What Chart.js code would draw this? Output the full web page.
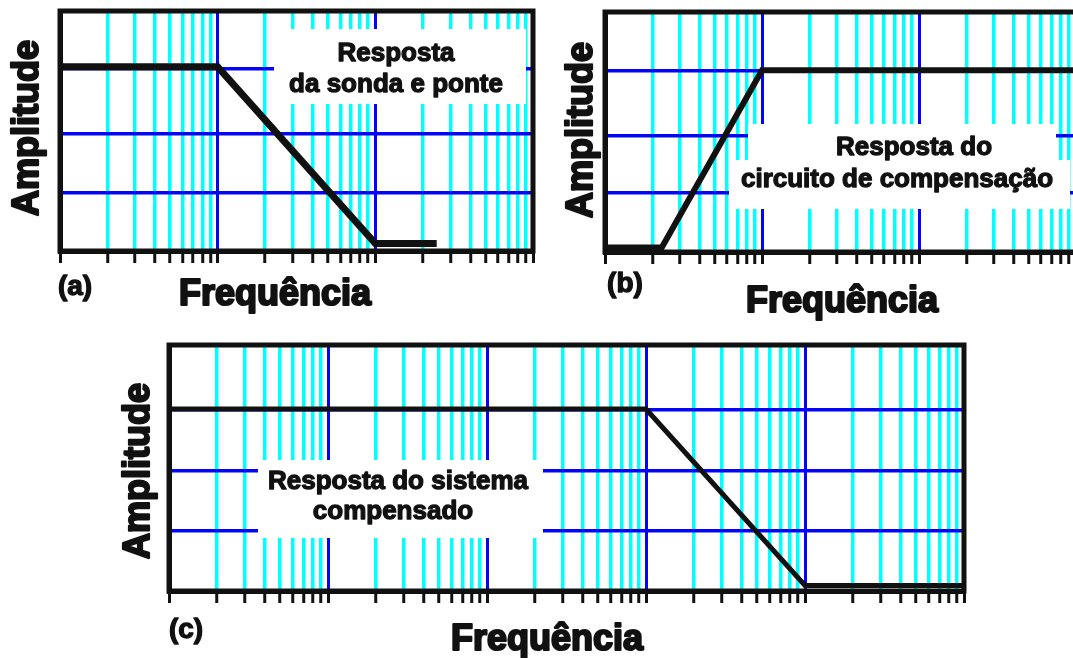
<!DOCTYPE html>
<html>
<head>
<meta charset="utf-8">
<title>Resposta em frequência</title>
<script src="https://cdn.jsdelivr.net/npm/chart.js@4.4.1/dist/chart.umd.min.js"></script>
<style>
html, body { margin: 0; padding: 0; background: #fff; overflow: hidden; }
#wrap { position: relative; width: 1073px; height: 658px; overflow: hidden; }
#wrap canvas { position: absolute; left: 0; top: 0; }
</style>
</head>
<body>
<div id="wrap">
  <canvas id="chartA" width="1100" height="658"></canvas>
  <canvas id="chartB" width="1100" height="658"></canvas>
  <canvas id="chartC" width="1100" height="658"></canvas>
</div>
<script>
// response curves: frequency (log axis) and amplitude (grid units)
var freqA = [1, 10, 100, 245];
var ampA = [3.07, 3.07, 0.125, 0.125];
var freqB = [1, 2.3, 10, 1000];
var ampB = [0.075, 0.075, 3.03, 3.03];
var freqC = [1, 1000, 10000, 100000];
var ampC = [2.96, 2.96, 0.09, 0.09];

// log paper: decades and the steps inside a decade
var decadesAB = [1, 10, 100, 1000];
var decadesC = [1, 10, 100, 1000, 10000, 100000];
var steps = [1, 2, 3, 4, 5, 6, 7, 8, 9];

// amplitude grid lines
var gridA = [0.97, 1.96, 3.03];
var gridB = [0.98, 1.93, 3.02];
var gridC = [0.98, 1.95, 2.94];

var ink = '#111111';
var cyan = '#00ffff';
var blue = '#0505f5';
var tickLen = 12;
var W = 1100, H = 658;

function isMajor(v) {
    var l = Math.log10(v);
    return Math.abs(l - Math.round(l)) < 1e-9;
}

function logTicks(decades) {
    var out = [];
    decades.forEach(function (d, i) {
        if (i === decades.length - 1) { out.push(d); return; }
        steps.forEach(function (s) { out.push(s * d); });
    });
    return out;
}

// heavy text: fill plus an outline of the same colour
function heavyText(ctx, text, x, y, weight) {
    ctx.lineWidth = weight;
    ctx.fillText(text, x, y);
    ctx.strokeText(text, x, y);
}

// white label boxes, notes, frame and titles
function makePaper(panel) {
    return {
        id: 'paper',
        beforeDatasetsDraw: function (chart) {
            var ctx = chart.ctx;
            ctx.save();
            ctx.fillStyle = '#fff';
            panel.boxes.forEach(function (b) {
                ctx.fillRect(b[0], b[1], b[2] - b[0], b[3] - b[1]);
            });
            ctx.fillStyle = ink;
            ctx.strokeStyle = ink;
            ctx.lineJoin = 'round';
            ctx.font = 'bold 26px "Liberation Sans", Arial, sans-serif';
            ctx.textAlign = 'center';
            ctx.textBaseline = 'middle';
            panel.notes.forEach(function (n) {
                heavyText(ctx, n[0], n[1], n[2], 1.3);
            });
            ctx.restore();
        },
        afterDatasetsDraw: function (chart) {
            var a = chart.chartArea, ctx = chart.ctx;
            ctx.save();
            ctx.strokeStyle = ink;
            ctx.lineWidth = 5;
            ctx.strokeRect(a.left, a.top, a.right - a.left, a.bottom - a.top);

            ctx.fillStyle = ink;
            ctx.lineJoin = 'round';
            ctx.textAlign = 'center';
            ctx.font = 'bold 36px "Liberation Sans", Arial, sans-serif';

            ctx.textBaseline = 'alphabetic';
            heavyText(ctx, 'Frequência', panel.xTitle[0], panel.xTitle[1], 2.2);

            ctx.save();
            ctx.translate(panel.yTitle[0], panel.yTitle[1]);
            ctx.rotate(-Math.PI / 2);
            ctx.textBaseline = 'middle';
            heavyText(ctx, 'Amplitude', 0, 0, 2.2);
            ctx.restore();

            ctx.font = 'bold 28px "Liberation Sans", Arial, sans-serif';
            ctx.textBaseline = 'middle';
            heavyText(ctx, panel.tag[0], panel.tag[1], panel.tag[2], 1.3);
            ctx.restore();
        }
    };
}

function paperChart(id, freq, amp, decades, yGrid, lineWidth, panel) {
    var xTicks = logTicks(decades);
    var area = panel.area;
    return new Chart(document.getElementById(id), {
        type: 'line',
        data: {
            datasets: [{
                data: freq.map(function (f, i) { return {x: f, y: amp[i]}; }),
                borderColor: ink,
                borderWidth: lineWidth,
                pointRadius: 0,
                tension: 0,
                borderJoinStyle: 'miter'
            }]
        },
        options: {
            responsive: false,
            animation: false,
            devicePixelRatio: 1,
            layout: {
                padding: {left: area[0], top: area[1], right: W - area[2], bottom: H - area[3] - tickLen}
            },
            plugins: {
                legend: {display: false},
                tooltip: {enabled: false}
            },
            scales: {
                x: {
                    type: 'logarithmic',
                    min: decades[0],
                    max: decades[decades.length - 1],
                    afterBuildTicks: function (scale) {
                        scale.ticks = xTicks.map(function (v) { return {value: v, major: isMajor(v)}; });
                    },
                    ticks: {display: false, autoSkip: false},
                    grid: {
                        color: function (c) { return c.tick && c.tick.major ? blue : cyan; },
                        lineWidth: function (c) { return c.tick && c.tick.major ? 3 : 3.5; },
                        tickColor: ink,
                        tickWidth: 3,
                        tickLength: tickLen
                    },
                    border: {color: ink, width: 5}
                },
                y: {
                    type: 'linear',
                    min: 0,
                    max: 4,
                    afterBuildTicks: function (scale) {
                        scale.ticks = yGrid.map(function (v) { return {value: v}; });
                    },
                    ticks: {display: false},
                    grid: {color: blue, lineWidth: 3.5, drawTicks: false},
                    border: {color: ink, width: 5}
                }
            }
        },
        plugins: [makePaper(panel)]
    });
}

paperChart('chartA', freqA, ampA, decadesAB, gridA, 7, {
    area: [60, 11, 533, 251],
    boxes: [[274, 29, 526, 104]],
    notes: [['Resposta', 396, 54], ['da sonda e ponte', 396, 85]],
    yTitle: [28, 128], xTitle: [275, 305], tag: ['(a)', 75, 287]
});

paperChart('chartB', freqB, ampB, decadesAB, gridB, 6, {
    area: [605, 12, 1076, 252],
    boxes: [[748, 124, 1056, 162], [729, 160, 1070, 209]],
    notes: [['Resposta do', 914, 148], ['circuito de compensação', 897, 180]],
    yTitle: [582, 130], xTitle: [842, 312], tag: ['(b)', 625, 284]
});

paperChart('chartC', freqC, ampC, decadesC, gridC, 5, {
    area: [169, 345, 964, 591],
    boxes: [[258, 460, 543, 538]],
    notes: [['Resposta do sistema', 398, 482], ['compensado', 393, 512]],
    yTitle: [139, 471], xTitle: [547, 650], tag: ['(c)', 186, 630]
});
</script>
</body>
</html>
